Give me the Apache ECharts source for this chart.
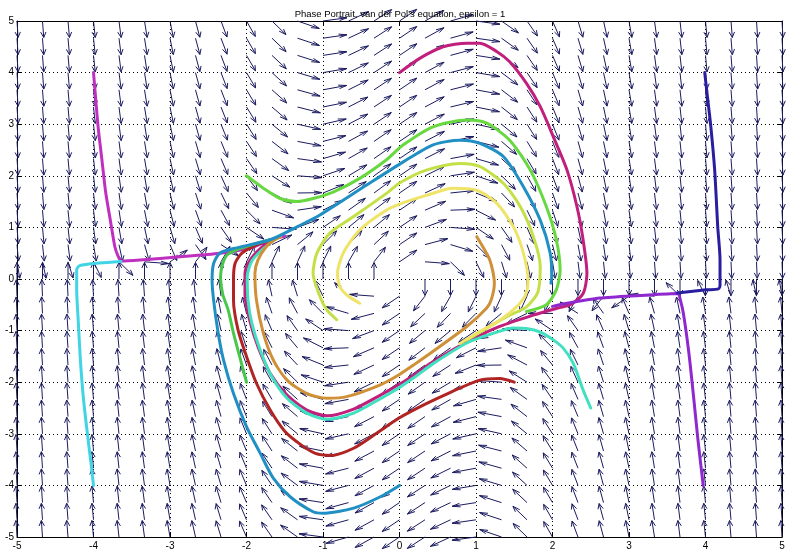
<!DOCTYPE html>
<html><head><meta charset="utf-8">
<script src="https://cdn.jsdelivr.net/npm/echarts@6/dist/echarts.min.js"></script>
<style>html,body{margin:0;padding:0;background:#fff}#c{width:800px;height:556px}</style>
</head><body><div id="c"></div>
<script>
// ---- texts / ticks ----
const titleText = "Phase Portrait, van der Pol's equation, epsilon = 1";
const xTicks = [-5,-4,-3,-2,-1,0,1,2,3,4,5];
const yTicks = [-5,-4,-3,-2,-1,0,1,2,3,4,5];
// ---- direction field (equation of the title) ----
const epsilon = 1;
const fieldX = [-5,-4.6667,-4.3333,-4,-3.6667,-3.3333,-3,-2.6667,-2.3333,-2,-1.6667,-1.3333,-1,-0.6667,-0.3333,0,0.3333,0.6667,1,1.3333,1.6667,2,2.3333,2.6667,3,3.3333,3.6667,4,4.3333,4.6667,5];
const fieldY = [-5,-4.6667,-4.3333,-4,-3.6667,-3.3333,-3,-2.6667,-2.3333,-2,-1.6667,-1.3333,-1,-0.6667,-0.3333,0,0.3333,0.6667,1,1.3333,1.6667,2,2.3333,2.6667,3,3.3333,3.6667,4,4.3333,4.6667,5];
// ---- trajectories ----
const trajMagentaTop = [[0.0,4.0],[0.27,4.28],[0.57,4.50],[0.88,4.57],[1.05,4.57],[1.27,4.41],[1.44,4.21],[1.66,3.79],[1.84,3.34],[2.01,2.76],[2.19,2.11],[2.32,1.40],[2.40,0.76],[2.45,0.11],[2.40,-0.28],[2.23,-0.50],[2.10,-0.55],[1.75,-0.70],[1.31,-0.92],[0.88,-1.22],[0.44,-1.60],[0.2,-1.85],[0.0,-2.04],[-0.25,-2.25],[-0.6,-2.52],[-0.95,-2.65],[-1.21,-2.54],[-1.47,-2.25],[-1.69,-1.83],[-1.85,-1.31],[-1.96,-0.79],[-2.02,-0.3],[-2.02,0.11],[-1.95,0.37],[-1.82,0.59],[-1.69,0.72]];
const trajPurpleRight = [[3.97,-4.0],[3.90,-3.1],[3.84,-2.22],[3.78,-1.4],[3.71,-0.66],[3.67,-0.40],[3.64,-0.28],[3.14,-0.32],[2.62,-0.37],[2.19,-0.47],[2.0,-0.53]];
const trajNavyRight = [[3.99,4.0],[4.03,3.47],[4.07,2.95],[4.12,2.11],[4.16,1.01],[4.19,0.37],[4.19,-0.12],[4.17,-0.19],[4.01,-0.21],[3.63,-0.27]];
const trajMagentaLeft = [[-4.0,4.0],[-3.97,3.47],[-3.94,2.95],[-3.89,2.31],[-3.84,1.67],[-3.78,1.14],[-3.72,0.62],[-3.68,0.45],[-3.64,0.35],[-3.39,0.37],[-2.87,0.43],[-2.35,0.50],[-1.95,0.60],[-1.69,0.76],[-1.50,0.83]];
const trajCyanLeft = [[-4.0,-4.0],[-4.03,-3.6],[-4.07,-3.12],[-4.13,-2.34],[-4.17,-1.6],[-4.2,-0.8],[-4.22,-0.2],[-4.22,0.18],[-4.18,0.26],[-3.92,0.31],[-3.64,0.34]];
const trajRed = [[1.5,-2.0],[1.31,-1.93],[1.05,-1.96],[0.66,-2.20],[0.33,-2.43],[0.0,-2.69],[-0.3,-2.99],[-0.6,-3.28],[-0.9,-3.42],[-1.1,-3.38],[-1.3,-3.2],[-1.5,-2.95],[-1.69,-2.54],[-1.87,-2.02],[-2.0,-1.50],[-2.11,-0.99],[-2.17,-0.41],[-2.17,-0.02],[-2.15,0.30],[-2.06,0.50],[-1.87,0.66],[-1.69,0.76]];
const trajGreenLow = [[-2.0,-2.0],[-2.09,-1.5],[-2.17,-1.05],[-2.24,-0.60],[-2.31,-0.30],[-2.34,0.04],[-2.31,0.30],[-2.25,0.47],[-2.09,0.59],[-1.69,0.76]];
const trajTurquoise = [[2.5,-2.5],[2.40,-2.15],[2.27,-1.63],[2.14,-1.34],[2.01,-1.18],[1.84,-1.03],[1.66,-0.96],[1.49,-0.95],[1.23,-1.05],[0.88,-1.24],[0.44,-1.64],[0.2,-1.9],[0.0,-2.1],[-0.25,-2.32],[-0.6,-2.6],[-0.95,-2.72],[-1.21,-2.60],[-1.47,-2.31],[-1.67,-1.89],[-1.82,-1.38],[-1.93,-0.86],[-1.98,-0.41],[-1.99,0.05],[-1.93,0.35],[-1.78,0.59],[-1.67,0.72]];
const trajOrange = [[1.01,0.82],[1.18,0.37],[1.24,-0.08],[1.20,-0.40],[1.14,-0.56],[0.88,-0.92],[0.44,-1.40],[0.2,-1.65],[0.0,-1.85],[-0.25,-2.05],[-0.69,-2.28],[-0.95,-2.31],[-1.21,-2.22],[-1.47,-1.96],[-1.65,-1.57],[-1.78,-1.05],[-1.87,-0.41],[-1.89,0.11],[-1.85,0.37],[-1.74,0.63],[-1.63,0.76],[-1.55,0.82]];
const trajBlue = [[0.0,-4.0],[-0.25,-4.22],[-0.60,-4.44],[-1.0,-4.54],[-1.13,-4.51],[-1.43,-4.22],[-1.65,-3.86],[-1.82,-3.38],[-2.0,-2.86],[-2.17,-2.22],[-2.30,-1.57],[-2.37,-1.05],[-2.43,-0.41],[-2.45,-0.02],[-2.43,0.30],[-2.35,0.50],[-2.17,0.59],[-1.69,0.76],[-1.34,1.01],[-1.04,1.24],[-0.43,1.82],[0.05,2.27],[0.44,2.60],[0.79,2.69],[1.05,2.63],[1.36,2.37],[1.62,1.79],[1.84,1.14],[1.97,0.50],[1.99,0.04],[1.98,-0.08]];
const trajGreenTop = [[-2.0,2.0],[-1.78,1.76],[-1.56,1.56],[-1.34,1.50],[-1.13,1.56],[-0.86,1.69],[-0.52,1.95],[-0.17,2.31],[0.05,2.6],[0.44,2.95],[0.88,3.08],[1.14,3.02],[1.44,2.69],[1.71,2.11],[1.92,1.40],[2.05,0.76],[2.10,0.17],[2.05,-0.21],[1.92,-0.50],[1.66,-0.63]];
const trajYellowGreen = [[-0.82,-0.79],[-0.95,-0.6],[-1.04,-0.34],[-1.13,0.11],[-1.08,0.50],[-0.91,0.89],[-0.60,1.21],[-0.17,1.66],[0.0,1.86],[0.35,2.11],[0.79,2.24],[1.05,2.18],[1.36,1.85],[1.58,1.40],[1.75,0.82],[1.84,0.24],[1.81,-0.25],[1.66,-0.54],[1.40,-0.73],[1.10,-0.99],[0.88,-1.18]];
const trajYellow = [[-0.52,-0.47],[-0.68,-0.32],[-0.78,-0.15],[-0.81,0.11],[-0.73,0.52],[-0.52,0.95],[-0.21,1.30],[0.0,1.45],[0.35,1.62],[0.70,1.76],[1.01,1.72],[1.27,1.47],[1.49,1.01],[1.62,0.50],[1.68,-0.02],[1.65,-0.30],[1.53,-0.54],[1.31,-0.80],[1.01,-1.05],[0.79,-1.25]];

const trajectories = [
  {data: trajMagentaTop, color: '#c0207c'},
  {data: trajPurpleRight, color: '#9028d0'},
  {data: trajNavyRight, color: '#2a1ea0'},
  {data: trajMagentaLeft, color: '#c030c0'},
  {data: trajCyanLeft, color: '#40d4e4'},
  {data: trajRed, color: '#b02424'},
  {data: trajGreenLow, color: '#48c848'},
  {data: trajTurquoise, color: '#40e0c0'},
  {data: trajOrange, color: '#d09038'},
  {data: trajBlue, color: '#2090c4'},
  {data: trajGreenTop, color: '#68d840'},
  {data: trajYellowGreen, color: '#c4e048'},
  {data: trajYellow, color: '#f0e468'}
];

const arrowColor = '#1b1b60';
const arrowLength = 0.32;
const headAlpha = 0.33, headBeta = 0.33;

const arrowData = [];
fieldY.forEach(fy => fieldX.forEach(fx => {
  const u = fy, v = -fx + epsilon * (1 - fx * fx) * fy;
  const len = Math.sqrt(u * u + v * v);
  if (len > 0) arrowData.push([fx, fy, u / len * arrowLength, v / len * arrowLength]);
}));

const font = 'Liberation Sans, Arial, Helvetica, sans-serif';
const chart = echarts.init(document.getElementById('c'), null, {renderer: 'canvas'});
const axisCommon = {
  type: 'value', min: -5, max: 5, interval: 1,
  axisLine: {show: true, onZero: false, lineStyle: {color: '#000', width: 1}},
  axisTick: {show: true, inside: true, length: 5, lineStyle: {color: '#000'}},
};
chart.setOption({
  animation: false,
  backgroundColor: '#fff',
  title: {text: titleText, left: 'center', top: 4, textStyle: {fontSize: 9.5, fontWeight: 'normal', color: '#000', fontFamily: font}},
  grid: {left: 17, right: 18, top: 21, bottom: 19, containLabel: false, outerBoundsMode: 'none'},
  xAxis: [
    Object.assign({}, axisCommon, {position: 'bottom',
      axisLabel: {color: '#000', fontSize: 10, margin: 4, fontFamily: font, formatter: v => xTicks.includes(v) ? String(v) : ''},
      splitLine: {show: true, lineStyle: {color: '#000', width: 1, type: [1, 3]}}}),
    Object.assign({}, axisCommon, {position: 'top', axisLabel: {show: false}, splitLine: {show: false}})
  ],
  yAxis: [
    Object.assign({}, axisCommon, {position: 'left',
      axisLabel: {color: '#000', fontSize: 10, margin: 3, fontFamily: font, formatter: v => yTicks.includes(v) ? String(v) : ''},
      splitLine: {show: true, lineStyle: {color: '#000', width: 1, type: [1, 3]}}}),
    Object.assign({}, axisCommon, {position: 'right', axisLabel: {show: false}, splitLine: {show: false}})
  ],
  series: [
    {
      type: 'custom', xAxisIndex: 0, yAxisIndex: 0, z: 2, silent: true, clip: false,
      encode: {x: 0, y: 1},
      data: arrowData,
      renderItem: function (params, api) {
        const x = api.value(0), y = api.value(1), u = api.value(2), v = api.value(3);
        const p0 = api.coord([x, y]);
        const p1 = api.coord([x + u, y + v]);
        const h1 = api.coord([x + u - headAlpha * (u + headBeta * v), y + v - headAlpha * (v - headBeta * u)]);
        const h2 = api.coord([x + u - headAlpha * (u - headBeta * v), y + v - headAlpha * (v + headBeta * u)]);
        return {type: 'group', children: [
          {type: 'line', shape: {x1: p0[0], y1: p0[1], x2: p1[0], y2: p1[1]}, style: {stroke: arrowColor, lineWidth: 1}},
          {type: 'polyline', shape: {points: [h1, p1, h2]}, style: {stroke: arrowColor, lineWidth: 1, fill: null}}
        ]};
      }
    }
  ].concat(trajectories.map((t, i) => ({
    type: 'line', xAxisIndex: 0, yAxisIndex: 0, z: 3 + i, silent: true,
    data: t.data, showSymbol: false, symbol: 'none', smooth: 0.25,
    lineStyle: {color: t.color, width: 3, cap: 'round', join: 'round'}
  })))
});
</script>
</body></html>
